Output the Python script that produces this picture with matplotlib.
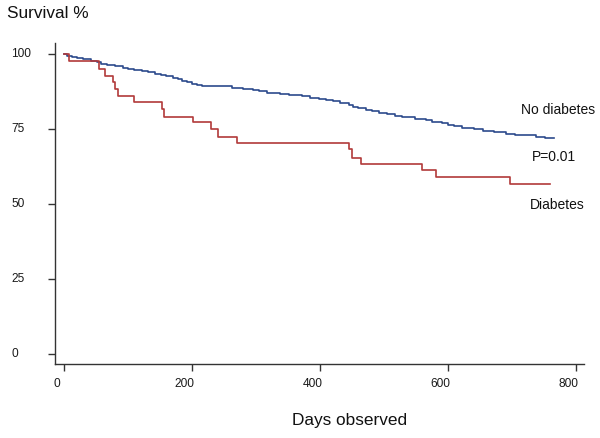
import matplotlib
matplotlib.use("Agg")
import matplotlib.pyplot as plt
import matplotlib.transforms as mtransforms

plt.rcParams['font.family'] = ['Liberation Sans', 'DejaVu Sans']

# No diabetes: step times (days) and survival (%) after each step
nodiab_days = [0, 5, 12, 20, 30, 42, 52, 58, 68, 80, 92, 100, 110, 122, 132, 142,
               152, 160, 170, 178, 185, 192, 200, 208, 215, 262, 280, 295, 305,
               318, 338, 352, 372, 385, 398, 410, 420, 432, 445, 452, 460, 472,
               482, 492, 505, 518, 528, 548, 565, 575, 590, 600, 610, 622, 640,
               655, 672, 690, 705, 738, 752, 765]
nodiab_surv = [100, 99.5, 99.1, 98.7, 98.3, 97.9, 97.4, 96.9, 96.5, 96.1, 95.6,
               95.2, 94.8, 94.4, 94.0, 93.6, 93.2, 92.7, 92.2, 91.7, 91.2, 90.7,
               90.2, 89.7, 89.3, 88.9, 88.5, 88.1, 87.7, 87.2, 86.8, 86.4, 86.0,
               85.6, 85.2, 84.8, 84.3, 83.7, 83.2, 82.6, 82.1, 81.6, 81.1, 80.6,
               80.1, 79.6, 79.1, 78.6, 78.1, 77.6, 77.1, 76.6, 76.1, 75.6, 75.1,
               74.6, 74.1, 73.6, 73.1, 72.6, 72.1, 72.1]

# Diabetes
diab_days = [0, 8, 54, 64, 77, 79, 85, 109, 153, 156, 202, 229, 241, 270,
             445, 450, 464, 559, 582, 697, 760]
diab_surv = [100, 97.7, 95.1, 92.9, 90.9, 88.4, 86.1, 84.2, 81.7, 79.2, 77.5,
             75.0, 72.5, 70.5, 68.4, 65.6, 63.3, 61.4, 59.0, 56.7, 56.7]

xticks = [0, 200, 400, 600, 800]
yticks = [0, 25, 50, 75, 100]

W, H = 600, 438
fig = plt.figure(figsize=(6, 4.38), dpi=100)
ax = fig.add_axes([55 / W, (H - 364.3) / H, (584.3 - 55) / W, (364.3 - 43) / H])

blue = '#2c4a8c'
red = '#b23a3a'
ax.step(nodiab_days, nodiab_surv, where='post', color=blue, lw=1.2)
ax.step(diab_days, diab_surv, where='post', color=red, lw=1.2)

ax.set_xlim(-14, 813)
ax.set_ylim(-3.35, 103.8)

for s in ['top', 'right']:
    ax.spines[s].set_visible(False)
for s in ['left', 'bottom']:
    ax.spines[s].set_color('#333333')
    ax.spines[s].set_linewidth(1.0)

ax.set_xticks(xticks)
ax.set_xticklabels([str(v) for v in xticks])
ax.set_yticks(yticks)
ax.set_yticklabels([str(v) for v in yticks])
ax.tick_params(axis='both', direction='out', length=5, width=1.0, color='#333333',
               labelsize=8.6, labelcolor='#1a1a1a')
ax.tick_params(axis='x', pad=5.0)
ax.tick_params(axis='y', pad=26.5)
for lab in ax.get_yticklabels():
    lab.set_horizontalalignment('left')
    lab.set_transform(lab.get_transform() + mtransforms.ScaledTranslation(0, 1.5 / 72, fig.dpi_scale_trans))
for lab in ax.get_xticklabels():
    lab.set_transform(lab.get_transform() + mtransforms.ScaledTranslation(-7.5 / 100, 0, fig.dpi_scale_trans))

ax.text(713.6, 81.4, 'No diabetes', fontsize=10, ha='left', va='center', color='#111111', clip_on=False)
ax.text(731, 65.9, 'P=0.01', fontsize=10, ha='left', va='center', color='#111111', clip_on=False)
ax.text(728, 49.8, 'Diabetes', fontsize=10, ha='left', va='center', color='#111111', clip_on=False)

fig.text(7 / W, (H - 13.5) / H, 'Survival %', fontsize=12.4, ha='left', va='center', color='#111111')
fig.text(350 / W, (H - 420) / H, 'Days observed', fontsize=12.4, ha='center', va='center', color='#111111')

fig.savefig('out.png', dpi=100)
